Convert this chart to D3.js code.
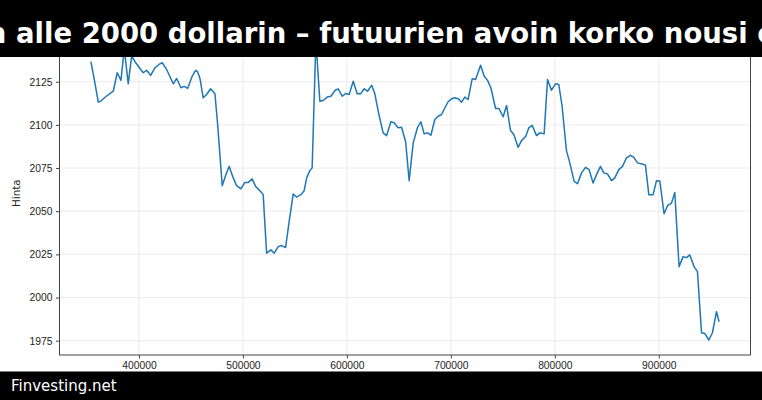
<!DOCTYPE html>
<html>
<head>
<meta charset="utf-8">
<script src="https://cdn.jsdelivr.net/npm/d3@7"></script>
<style>
  body { margin: 0; background: #fff; }
  svg { display: block; font-family: "DejaVu Sans", sans-serif; }
  .grid line { stroke: #e6e6e6; stroke-width: 0.8; }
  .axis path, .axis line { stroke: #444; }
  .axis text { fill: #222; font-size: 10.3px; }
</style>
</head>
<body>
<div id="chart-area"></div>
<script>
// avoin korko (x) ja hinta (y)
var openInterest = [
  353800, 356700, 360900, 363200, 368000, 375300, 379100, 382700, 385900, 389700,
  393000, 396200, 401000, 404100, 407400, 411300, 415400, 419200, 422400, 426600,
  433000, 436300, 440400, 443600, 446800, 451300, 454500, 456400, 458700, 461800,
  465100, 468900, 473100, 475700, 480100, 483700, 486800, 490100, 493900, 498100,
  501900, 505100, 508900, 512200, 516400, 519500, 522800, 526900, 530100, 533900,
  537200, 541100, 544500, 548400, 551600, 555800, 558900, 561300, 564400, 566600,
  570200, 574000, 577200, 581100, 584600, 588500, 591600, 595500, 598800, 602200,
  606100, 609900, 613200, 616600, 619900, 623800, 626900, 630800, 634900, 638200,
  642300, 645500, 649300, 652600, 656500, 659900, 663800, 668000, 671200, 674300,
  677600, 680800, 684600, 687800, 691100, 694200, 697400, 700700, 703800, 707000,
  710300, 713500, 716600, 720500, 723800, 728600, 732000, 735300, 738500, 743000,
  746200, 750300, 753600, 757400, 760600, 764700, 768000, 772100, 775000, 778200,
  782400, 785600, 789700, 793000, 796800, 800700, 803800, 807000, 811200, 814400,
  818600, 821800, 825700, 829500, 833000, 836800, 840100, 843900, 847100, 850700,
  854500, 857700, 861500, 865100, 868900, 872800, 876000, 879500, 883900, 887200,
  890400, 894500, 897800, 901000, 905100, 908400, 912200, 915400, 919500, 923400,
  926600, 929800, 934000, 937200, 941100, 944200, 948100, 951600, 955500, 958000
];

var price = [
  2136.6, 2127.5, 2113.2, 2113.7, 2116.3, 2119.5, 2130.2, 2125.8, 2144.0, 2123.8,
  2140.0, 2136.6, 2132.7, 2130.2, 2131.6, 2128.7, 2133.1, 2135.0, 2136.0, 2132.1,
  2123.8, 2126.9, 2121.5, 2122.3, 2121.1, 2128.3, 2131.6, 2130.8, 2126.9, 2115.7,
  2117.6, 2120.9, 2118.0, 2100.2, 2064.8, 2071.2, 2076.0, 2070.2, 2064.8, 2063.0,
  2066.7, 2066.7, 2068.7, 2064.4, 2061.9, 2059.6, 2025.7, 2027.6, 2025.7, 2029.5,
  2030.1, 2029.0, 2044.1, 2060.0, 2058.2, 2059.6, 2061.9, 2069.3, 2073.5, 2075.1,
  2149.0, 2113.7, 2114.1, 2116.1, 2116.6, 2119.9, 2120.9, 2116.6, 2118.2, 2117.6,
  2125.3, 2118.0, 2118.0, 2120.9, 2119.5, 2122.9, 2118.0, 2106.0, 2095.4, 2093.8,
  2101.8, 2101.2, 2098.3, 2098.6, 2090.2, 2067.7, 2089.6, 2098.6, 2101.8, 2094.8,
  2095.4, 2094.0, 2103.1, 2105.0, 2106.0, 2109.9, 2113.4, 2115.1, 2115.7, 2115.1,
  2113.2, 2116.1, 2114.7, 2126.7, 2126.3, 2134.5, 2128.3, 2125.8, 2121.5, 2109.5,
  2109.5, 2104.7, 2111.2, 2096.7, 2094.4, 2087.0, 2090.9, 2093.4, 2098.3, 2099.8,
  2093.8, 2095.4, 2094.8, 2126.3, 2120.1, 2123.8, 2123.4, 2110.8, 2085.1, 2078.0,
  2067.3, 2065.9, 2072.2, 2075.4, 2074.1, 2066.3, 2071.2, 2076.0, 2072.2, 2071.6,
  2067.7, 2069.3, 2074.1, 2076.0, 2080.9, 2082.4, 2081.2, 2078.0, 2077.4, 2076.6,
  2059.6, 2059.6, 2067.7, 2067.5, 2048.5, 2053.2, 2054.7, 2060.9, 2017.9, 2023.7,
  2023.1, 2024.7, 2017.9, 2015.0, 1979.6, 1979.2, 1975.4, 1979.6, 1991.8, 1986.0
];

var xTicks = [400000, 500000, 600000, 700000, 800000, 900000];
var yTicks = [1975, 2000, 2025, 2050, 2075, 2100, 2125];

var titleText = "Kullan hinnan putoaminen alle 2000 dollarin – futuurien avoin korko nousi ennätystasolle";
var yLabel = "Hinta";
var footerText = "Finvesting.net";

var W = 762, H = 400;
var plot = { left: 59.5, right: 750.5, top: 25.3, bottom: 355 };

var points = openInterest.map(function(d, i) { return { x: d, y: price[i] }; });

var svg = d3.select("#chart-area").append("svg")
  .attr("width", W)
  .attr("height", H);

// matplotlibin tapaan 5 % marginaali
var xExt = d3.extent(openInterest), xPad = (xExt[1] - xExt[0]) * 0.05;
var yExt = d3.extent(price), yPad = (yExt[1] - yExt[0]) * 0.05;

var x = d3.scaleLinear()
  .domain([xExt[0] - xPad, xExt[1] + xPad])
  .range([plot.left, plot.right]);

var y = d3.scaleLinear()
  .domain([yExt[0] - yPad, yExt[1] + yPad])
  .range([plot.bottom, plot.top]);

// ruudukko
var grid = svg.append("g").attr("class", "grid");
grid.selectAll(".gx").data(xTicks).enter().append("line")
  .attr("x1", function(d) { return x(d); })
  .attr("x2", function(d) { return x(d); })
  .attr("y1", plot.top)
  .attr("y2", plot.bottom);
grid.selectAll(".gy").data(yTicks).enter().append("line")
  .attr("x1", plot.left)
  .attr("x2", plot.right)
  .attr("y1", function(d) { return y(d); })
  .attr("y2", function(d) { return y(d); });

var line = d3.line()
  .x(function(d) { return x(d.x); })
  .y(function(d) { return y(d.y); });

svg.append("path")
  .datum(points)
  .attr("fill", "none")
  .attr("stroke", "#1f77b4")
  .attr("stroke-width", 1.5)
  .attr("stroke-linejoin", "round")
  .attr("d", line);

// reunat
svg.append("rect")
  .attr("x", plot.left)
  .attr("y", plot.top)
  .attr("width", plot.right - plot.left)
  .attr("height", plot.bottom - plot.top)
  .attr("fill", "none")
  .attr("stroke", "#444")
  .attr("stroke-width", 1);

var xAxis = d3.axisBottom(x)
  .tickValues(xTicks)
  .tickFormat(d3.format("d"))
  .tickSize(3.5)
  .tickPadding(3.5);

svg.append("g")
  .attr("class", "axis x-axis")
  .attr("transform", "translate(0, " + plot.bottom + ")")
  .call(xAxis)
  .call(function(g) { g.select(".domain").remove(); });

var yAxis = d3.axisLeft(y)
  .tickValues(yTicks)
  .tickFormat(d3.format("d"))
  .tickSize(3.5)
  .tickPadding(3.5);

svg.append("g")
  .attr("class", "axis y-axis")
  .attr("transform", "translate(" + plot.left + ", 0)")
  .call(yAxis)
  .call(function(g) { g.select(".domain").remove(); });

svg.append("text")
  .attr("x", -((plot.top + plot.bottom) / 2) - 3)
  .attr("y", 19.5)
  .attr("transform", "rotate(-90)")
  .attr("text-anchor", "middle")
  .attr("font-size", "10.3px")
  .attr("fill", "#222")
  .text(yLabel);

// otsikkopalkki
svg.append("rect")
  .attr("x", 0).attr("y", 0)
  .attr("width", W).attr("height", 57)
  .attr("fill", "#000");

var title = svg.append("text")
  .attr("x", 0)
  .attr("y", 43)
  .attr("font-size", "27.5px")
  .attr("font-weight", "bold")
  .attr("fill", "#fff")
  .text(titleText);

// sana "alle" alkaa kuvassa kohdasta x = 16
var alleAt = titleText.indexOf("alle");
var before = title.node().getSubStringLength(0, alleAt);
title.attr("x", 16 - before);

// alapalkki
svg.append("rect")
  .attr("x", 0).attr("y", 371.5)
  .attr("width", W).attr("height", H - 371.5)
  .attr("fill", "#000");

svg.append("text")
  .attr("x", 11)
  .attr("y", 391)
  .attr("font-size", "15px")
  .attr("fill", "#fff")
  .text(footerText);
</script>
</body>
</html>
